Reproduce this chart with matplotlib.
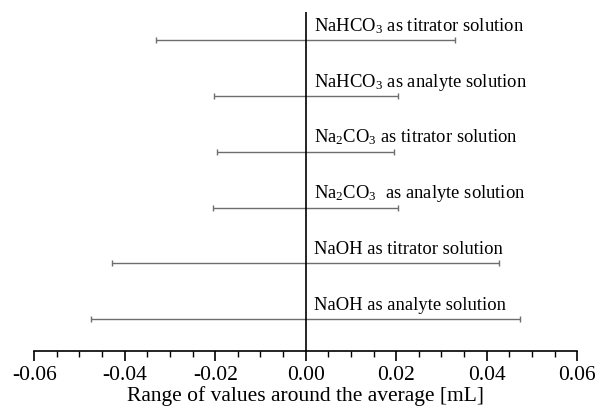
import matplotlib
matplotlib.use("Agg")
import matplotlib.pyplot as plt
from matplotlib.ticker import MultipleLocator, FormatStrFormatter
import numpy as np

# series, listed from the top of the chart to the bottom
labels = [
    "NaHCO$_3$ as titrator solution",
    "NaHCO$_3$ as analyte solution",
    "Na$_2$CO$_3$ as titrator solution",
    "Na$_2$CO$_3$  as analyte solution",
    "NaOH as titrator solution",
    "NaOH as analyte solution",
]
half_range = [0.0330, 0.0203, 0.0196, 0.0205, 0.0427, 0.0474]  # mL
centre = [0.0, 0.0, 0.0, 0.0, 0.0, 0.0]

plt.rcParams["font.family"] = ["Liberation Serif", "DejaVu Serif"]
plt.rcParams["mathtext.fontset"] = "custom"
plt.rcParams["mathtext.rm"] = "Liberation Serif"
plt.rcParams["mathtext.it"] = "Liberation Serif:italic"
plt.rcParams["axes.unicode_minus"] = False

fig = plt.figure(figsize=(6.0, 4.09), dpi=100)
ax = fig.add_axes([0.057, 0.142, 0.905, 0.829])

ypos = np.arange(len(labels))[::-1]

ax.errorbar(centre, ypos, xerr=half_range, fmt="none", ecolor="#6e6e6e",
            elinewidth=1.0, capsize=2.5, capthick=1.0)
ax.axvline(0, color="black", lw=1.2, zorder=3)

for y, lab in zip(ypos, labels):
    ax.text(0.0018, y + 0.17, lab, fontsize=13.4, va="baseline", ha="left")

ax.set_xlim(-0.06, 0.06)
ax.set_ylim(-0.57, 5.51)
ax.xaxis.set_major_locator(MultipleLocator(0.02))
ax.xaxis.set_minor_locator(MultipleLocator(0.005))
ax.xaxis.set_major_formatter(FormatStrFormatter("%.2f"))
ax.tick_params(axis="x", which="major", direction="out", length=7, width=1.2,
               labelsize=15.5, pad=4)
ax.tick_params(axis="x", which="minor", direction="out", length=4, width=1.0)
ax.set_yticks([])
for side in ["top", "left", "right"]:
    ax.spines[side].set_visible(False)
ax.spines["bottom"].set_linewidth(1.2)
ax.set_xlabel("Range of values around the average [mL]", fontsize=15.5, labelpad=1)

fig.savefig("out.png", dpi=100)
